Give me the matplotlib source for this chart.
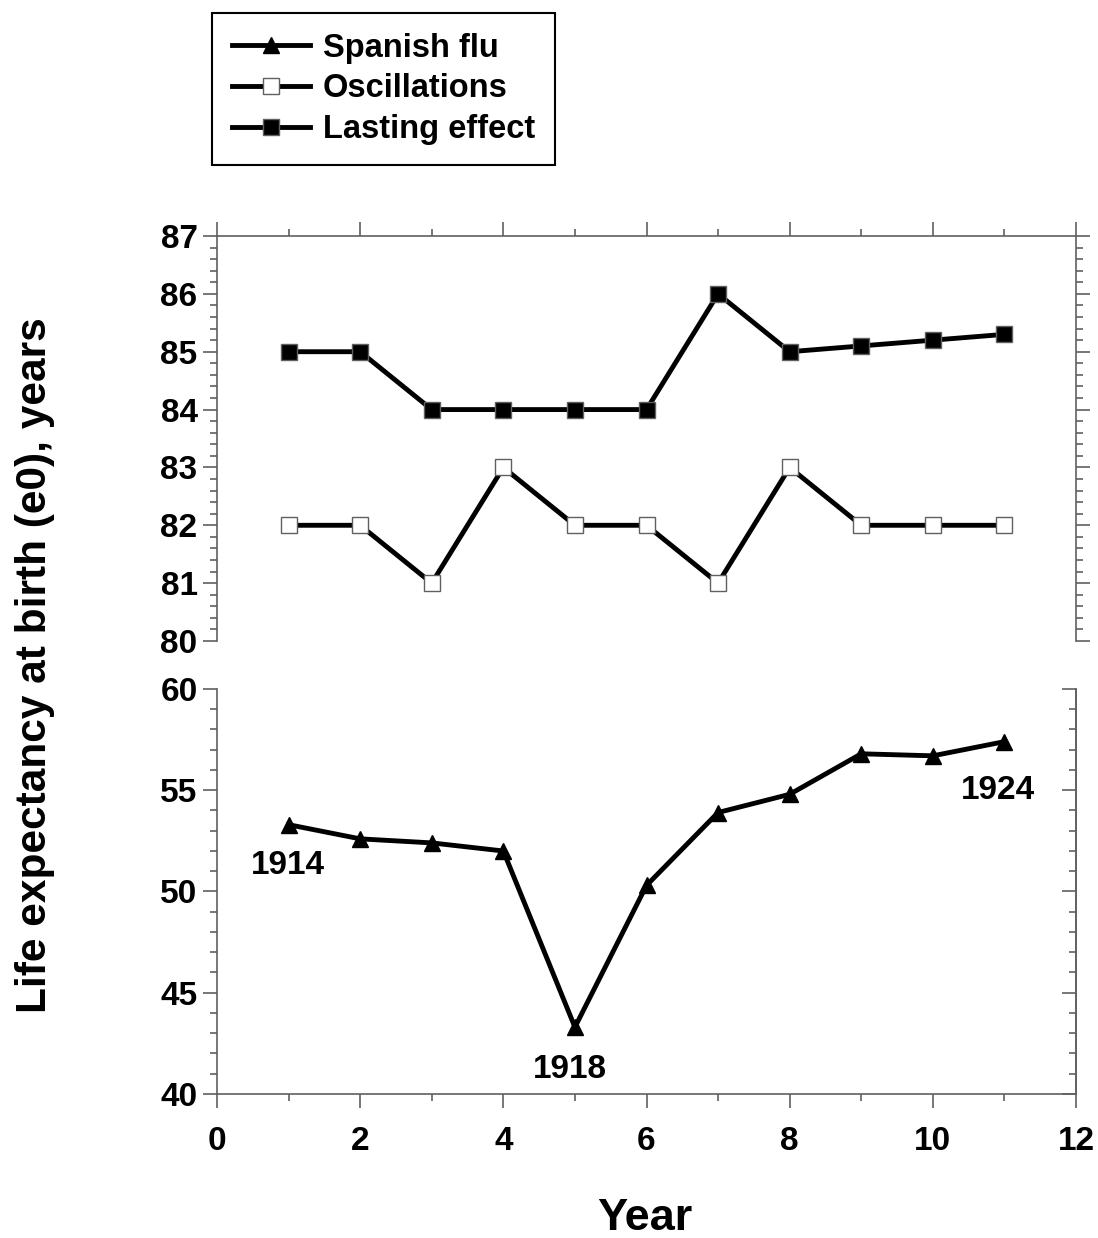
import numpy as np
import matplotlib
matplotlib.use('Agg')
import matplotlib.pyplot as plt
from matplotlib.ticker import MultipleLocator

plt.rcParams['font.family'] = ['Liberation Sans', 'DejaVu Sans']
plt.rcParams['font.weight'] = 'bold'

years = np.arange(1, 12)
spanish_flu = [53.3, 52.6, 52.4, 52.0, 43.3, 50.3, 53.9, 54.8, 56.8, 56.7, 57.4]
oscillations = [82, 82, 81, 83, 82, 82, 81, 83, 82, 82, 82]
lasting_effect = [85, 85, 84, 84, 84, 84, 86, 85, 85.1, 85.2, 85.3]
year_labels = ['1914', '1918', '1924']
label_pos = [(0.99, 51.3), (4.93, 41.2), (10.91, 55.0)]

spine_col = '#606060'
W, H = 1098, 1238
fig = plt.figure(figsize=(W / 100, H / 100), dpi=100)

left = 217 / W
width = (1076 - 217) / W
ax_top = fig.add_axes([left, 1 - 641 / H, width, (641 - 236) / H])
ax_bot = fig.add_axes([left, 1 - 1094 / H, width, (1094 - 689) / H])

line_kw = dict(color='black', lw=3.5, markersize=11, clip_on=False)
l1, = ax_bot.plot(years, spanish_flu, marker='^', markerfacecolor='black',
                  markeredgecolor='black', label='Spanish flu', **line_kw)
l2, = ax_top.plot(years, oscillations, marker='s', markerfacecolor='white',
                  markeredgecolor=spine_col, markeredgewidth=1, label='Oscillations', **line_kw)
l3, = ax_top.plot(years, lasting_effect, marker='s', markerfacecolor='black',
                  markeredgecolor=spine_col, markeredgewidth=1, label='Lasting effect', **line_kw)

for ax in (ax_top, ax_bot):
    ax.set_xlim(0, 12)
    ax.xaxis.set_major_locator(MultipleLocator(2))
    ax.xaxis.set_minor_locator(MultipleLocator(1))
    for s in ax.spines.values():
        s.set_color(spine_col)
        s.set_linewidth(1.2)
    ax.tick_params(which='both', colors=spine_col, labelcolor='black', width=1.2)
    ax.tick_params(which='major', length=10)
    ax.tick_params(which='minor', length=5)
    ax.tick_params(axis='y', labelsize=24, pad=4)
    ax.tick_params(axis='x', labelsize=24, pad=13)

# top panel
ax_top.set_ylim(80, 87)
ax_top.yaxis.set_major_locator(MultipleLocator(1))
ax_top.yaxis.set_minor_locator(MultipleLocator(0.2))
ax_top.spines['bottom'].set_visible(False)
ax_top.tick_params(axis='x', which='both', direction='out', bottom=False, top=True,
                   labelbottom=False, labeltop=False)
ax_top.tick_params(axis='y', which='both', direction='out', left=True, right=True)

# bottom panel
ax_bot.set_ylim(40, 60)
ax_bot.yaxis.set_major_locator(MultipleLocator(5))
ax_bot.yaxis.set_minor_locator(MultipleLocator(1))
ax_bot.spines['top'].set_visible(False)
ax_bot.tick_params(axis='x', which='both', direction='out', bottom=True, top=False)
ax_bot.tick_params(axis='y', which='both', direction='out', left=True, right=False)
ax_r = ax_bot.secondary_yaxis('right')
ax_r.yaxis.set_major_locator(MultipleLocator(5))
ax_r.yaxis.set_minor_locator(MultipleLocator(1))
ax_r.spines['right'].set_color(spine_col)
ax_r.spines['right'].set_linewidth(1.2)
ax_r.tick_params(which='both', direction='in', colors=spine_col, width=1.2, labelright=False)
ax_r.tick_params(which='major', length=10)
ax_r.tick_params(which='minor', length=5)

for txt, (x, y) in zip(year_labels, label_pos):
    ax_bot.text(x, y, txt, ha='center', va='center', fontsize=24, fontweight='bold')

fig.text(35 / W, 1 - 665 / H, 'Life expectancy at birth (e0), years', rotation=90,
         ha='center', va='center', fontsize=30.5, fontweight='bold')
fig.text(645 / W, 1 - 1218 / H, 'Year', ha='center', va='center', fontsize=32.5, fontweight='bold')

leg = fig.legend(handles=[l1, l2, l3], loc='upper left', bbox_to_anchor=(212 / W, 1 - 13 / H),
                 bbox_transform=fig.transFigure, borderaxespad=0, fontsize=23.5, numpoints=1,
                 handlelength=2.4, handletextpad=0.4, labelspacing=0.3, borderpad=0.6,
                 fancybox=False, framealpha=1)
leg.get_frame().set_edgecolor('black')
leg.get_frame().set_linewidth(1.5)

fig.savefig('out.png', dpi=100)
